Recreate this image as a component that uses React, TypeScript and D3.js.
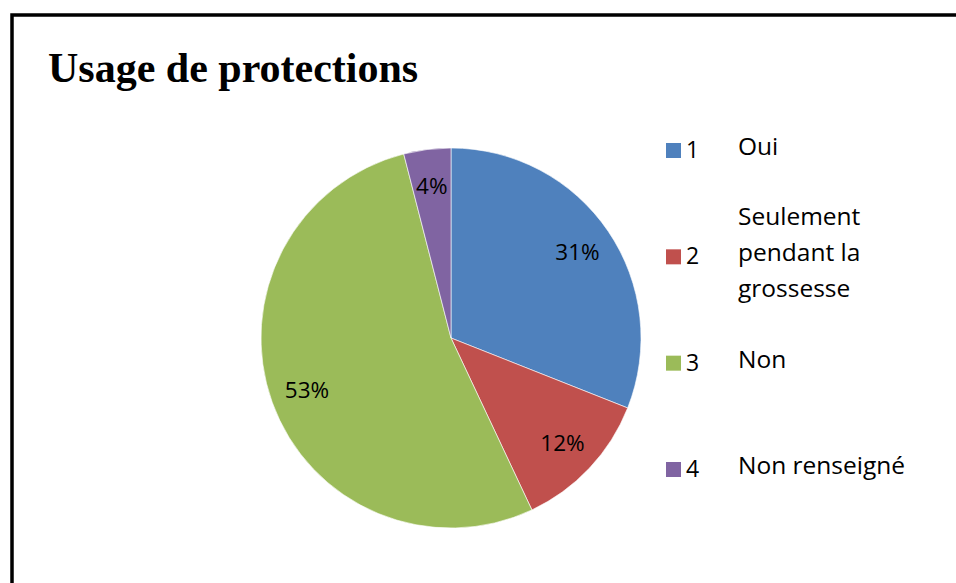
import { useEffect, useRef } from 'react'
import * as d3 from 'd3'

const categories = ['1', '2', '3', '4']
const labels = [['Oui'], ['Seulement', 'pendant la', 'grossesse'], ['Non'], ['Non renseigné']]
const values = [31, 12, 53, 4]
const colors = ['#4F81BD', '#C0504D', '#9BBB59', '#8064A2']

const FONT = '"Open Sans", "Liberation Sans", sans-serif'

export default function App() {
  const svgRef = useRef<SVGSVGElement>(null)

  useEffect(() => {
    if (!svgRef.current) return
    const width = 956
    const height = 583
    const svg = d3.select(svgRef.current)
    svg.selectAll('*').remove()

    svg.append('rect').attr('width', width).attr('height', height).attr('fill', '#fff')

    // frame (runs off the right and bottom edges)
    svg.append('rect').attr('x', 12).attr('y', 15).attr('width', 1200).attr('height', 1000)
      .attr('fill', 'none').attr('stroke', '#000').attr('stroke-width', 3.5)

    svg.append('text').attr('x', 48).attr('y', 82)
      .attr('font-family', '"Liberation Serif", "Times New Roman", serif')
      .attr('font-weight', 'bold').attr('font-size', 42)
      .text('Usage de protections')

    const cx = 451, cy = 338, r = 190
    const pie = d3.pie<number>().sort(null).value(d => d)
    const arcs = pie(values)
    const arc = d3.arc<d3.PieArcDatum<number>>().innerRadius(0).outerRadius(r)
    const labelArc = d3.arc<d3.PieArcDatum<number>>().innerRadius(153).outerRadius(153)
    const total = d3.sum(values)

    const g = svg.append('g').attr('transform', `translate(${cx},${cy})`)
    g.selectAll('path').data(arcs).join('path')
      .attr('d', arc)
      .attr('fill', (_, i) => colors[i])
      .attr('stroke', '#fff').attr('stroke-width', 0.6)

    g.selectAll('text.lbl').data(arcs).join('text')
      .attr('class', 'lbl')
      .attr('transform', d => { const [x, y] = labelArc.centroid(d); return `translate(${x},${y})` })
      .attr('text-anchor', 'middle').attr('dy', '0.36em')
      .attr('font-family', FONT).attr('font-size', 22.5)
      .text(d => `${Math.round(d.data / total * 100)}%`)

    // legend
    const legY = d3.scalePoint<string>().domain(categories).range([158, 477])
    const leg = svg.append('g')
    categories.forEach((c, i) => {
      const y = legY(c)!
      leg.append('rect').attr('x', 666).attr('y', y - 15).attr('width', 15).attr('height', 15).attr('fill', colors[i])
      leg.append('text').attr('x', 686).attr('y', y).attr('font-family', FONT)
        .attr('font-size', 23).text(c)
      const lines = labels[i]
      const lh = 36
      const base = y - 3 - (lines.length - 1) * lh / 2
      lines.forEach((l, j) => {
        leg.append('text').attr('x', 738).attr('y', base + j * lh)
          .attr('font-family', FONT).attr('font-size', 24.5).text(l)
      })
    })
  }, [])

  return <svg ref={svgRef} width={956} height={583} style={{ position: 'absolute', left: 0, top: 0 }} />
}
